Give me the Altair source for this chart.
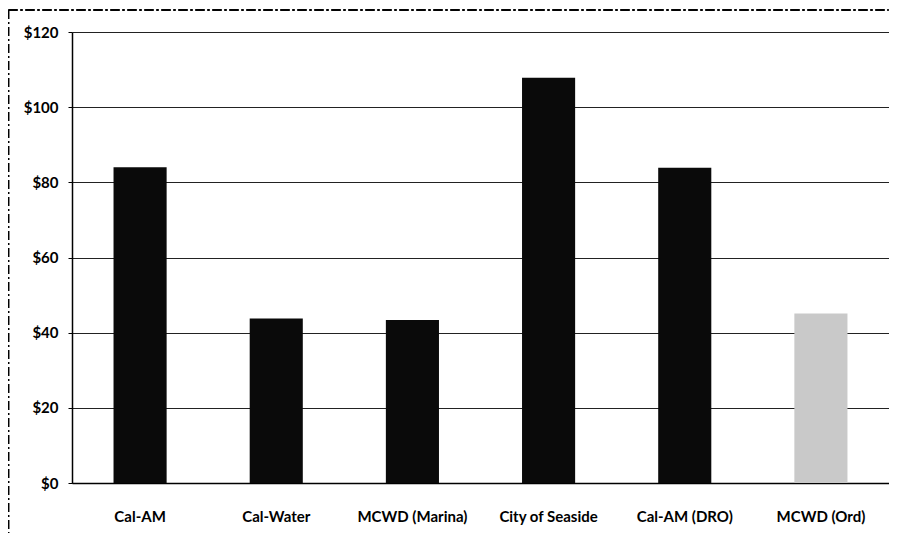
import altair as alt
import pandas as pd

categories = ["Cal-AM", "Cal-Water", "MCWD (Marina)", "City of Seaside", "Cal-AM (DRO)", "MCWD (Ord)"]
values = [84.0, 43.8, 43.4, 107.8, 83.9, 45.1]
fills = ["#0a0a0a", "#0a0a0a", "#0a0a0a", "#0a0a0a", "#0a0a0a", "#c9c9c9"]
y_ticks = [0, 20, 40, 60, 80, 100, 120]

df = pd.DataFrame({"category": categories, "value": values, "fill": fills})

FONT = "Lato"
W, H = 817, 451

bars = alt.Chart(df).mark_bar().encode(
    x=alt.X("category:N", sort=categories, title=None,
            scale=alt.Scale(paddingInner=0.61, paddingOuter=0.305),
            axis=alt.Axis(labelAngle=0, ticks=False, tickSize=0, labelPadding=26,
                          labelFont=FONT, labelFontSize=15, labelFontWeight="bold",
                          labelColor="#000", domainColor="#000", domainWidth=1.5,
                          grid=False)),
    y=alt.Y("value:Q", title=None,
            scale=alt.Scale(domain=[0, 120], nice=False),
            axis=alt.Axis(values=y_ticks, labelExpr="'$' + datum.value",
                          labelFont=FONT, labelFontSize=15, labelFontWeight="bold",
                          labelColor="#000", tickSize=4, tickColor="#000",
                          labelPadding=10, domainColor="#000", domainWidth=1.5,
                          gridColor="#222", gridWidth=1, grid=True)),
    color=alt.Color("fill:N", scale=None),
)

dash = dict(stroke="#000", strokeWidth=1.2, strokeDash=[9, 3, 2, 3])
border_top = alt.Chart(df).mark_rule(**dash).encode(
    x=alt.value(-63.5), x2=alt.value(W - 0.5), y=alt.value(-22), y2=alt.value(-22),
)
border_left = alt.Chart(df).mark_rule(**dash).encode(
    x=alt.value(-63.5), x2=alt.value(-63.5), y=alt.value(-22), y2=alt.value(H + 50),
)

chart = alt.layer(bars, border_top, border_left).properties(
    width=W, height=H,
    autosize=alt.AutoSizeParams(type="none"),
    padding={"left": 64, "top": 24, "right": 0, "bottom": 54},
).configure_view(stroke=None).configure(background="white")

chart.save("out.html", embed_options={"renderer": "svg", "actions": False})
